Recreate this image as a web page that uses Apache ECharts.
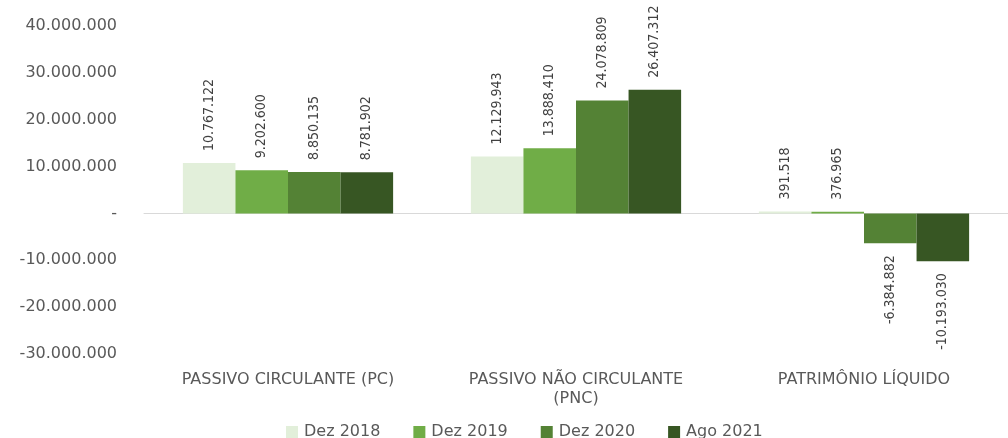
<!DOCTYPE html>
<html>
<head>
<meta charset="utf-8">
<script src="https://cdn.jsdelivr.net/npm/echarts@6/dist/echarts.min.js"></script>
<style>html,body{margin:0;padding:0;background:#fff}#c{width:1008px;height:438px}</style>
</head>
<body>
<div id="c"></div>
<script>
const categories = ['PASSIVO CIRCULANTE (PC)', 'PASSIVO NÃO CIRCULANTE\n(PNC)', 'PATRIMÔNIO LÍQUIDO'];
const seriesNames = ['Dez 2018', 'Dez 2019', 'Dez 2020', 'Ago 2021'];
const dez2018 = [10767122, 12129943, 391518];
const dez2019 = [9202600, 13888410, 376965];
const dez2020 = [8850135, 24078809, -6384882];
const ago2021 = [8781902, 26407312, -10193030];
const colors = ['#e2efda', '#70ad47', '#548235', '#375623'];
const yMin = -30000000, yMax = 40000000, yStep = 10000000;

function fmt(v) {
  const s = Math.abs(Math.round(v)).toString().replace(/\B(?=(\d{3})+(?!\d))/g, '.');
  return (v < 0 ? '-' : '') + s;
}

const allValues = [dez2018, dez2019, dez2020, ago2021];
const labelFont = "'Liberation Sans Narrow', 'DejaVu Sans Condensed', sans-serif";

const series = allValues.map((vals, i) => ({
  name: seriesNames[i],
  type: 'bar',
  barGap: '0%',
  barCategoryGap: '27%',
  itemStyle: { color: colors[i] },
  data: vals.map(v => ({
    value: v,
    label: v < 0
      ? { position: 'bottom', align: 'right' }
      : { position: 'top', align: 'left' }
  })),
  label: {
    show: true,
    rotate: 90,
    verticalAlign: 'middle',
    distance: 12,
    color: '#404040',
    fontFamily: labelFont,
    fontSize: 14,
    formatter: p => fmt(p.value)
  }
}));

const chart = echarts.init(document.getElementById('c'));
chart.setOption({
  animation: false,
  backgroundColor: '#fff',
  grid: { left: 144, right: -12, top: 26, bottom: 84, containLabel: false },
  legend: {
    data: seriesNames,
    left: 281,
    top: 419,
    itemWidth: 12,
    itemHeight: 12,
    itemGap: 33,
    icon: 'rect',
    textStyle: { color: '#595959', fontFamily: 'DejaVu Sans', fontSize: 16, padding: [0, 0, 0, 1] }
  },
  xAxis: {
    type: 'category',
    data: categories,
    axisLine: { onZero: true, lineStyle: { color: '#d9d9d9', width: 1 } },
    axisTick: { show: false },
    axisLabel: {
      color: '#595959', fontFamily: 'DejaVu Sans', fontSize: 16, margin: 16,
      lineHeight: 19, interval: 0
    }
  },
  yAxis: {
    type: 'value',
    min: yMin, max: yMax, interval: yStep,
    splitLine: { show: false },
    axisLine: { show: false },
    axisTick: { show: false },
    axisLabel: {
      color: '#595959', fontFamily: 'DejaVu Sans', fontSize: 16, margin: 27,
      formatter: v => v === 0 ? '-' : fmt(v)
    }
  },
  series: series
});
</script>
</body>
</html>
